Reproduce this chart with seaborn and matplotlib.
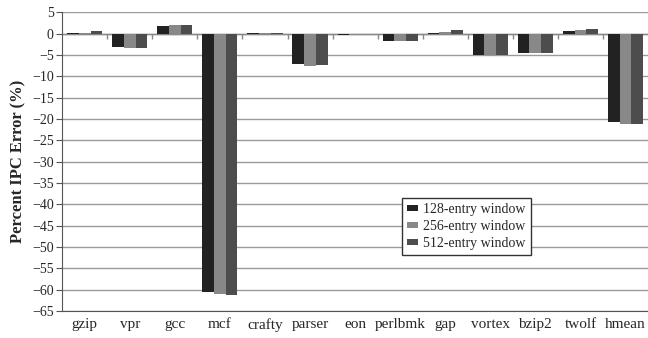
import numpy as np
import pandas as pd
import matplotlib.pyplot as plt
import seaborn as sns

benchmarks = ["gzip", "vpr", "gcc", "mcf", "crafty", "parser", "eon",
              "perlbmk", "gap", "vortex", "bzip2", "twolf", "hmean"]
win128 = [0.05, -3.2, 1.7, -60.5, 0.05, -7.2, -0.3, -1.8, 0.1, -5.0, -4.5, 0.5, -20.8]
win256 = [0.2, -3.3, 2.0, -61.0, 0.05, -7.5, -0.2, -1.7, 0.3, -5.0, -4.6, 0.8, -21.2]
win512 = [0.7, -3.3, 2.0, -61.2, 0.05, -7.3, -0.1, -1.8, 0.8, -5.0, -4.5, 1.0, -21.3]
windows = ["128-entry window", "256-entry window", "512-entry window"]
colors = ["#222222", "#888888", "#4d4d4d"]

df = pd.DataFrame({
    "bench": benchmarks * 3,
    "err": win128 + win256 + win512,
    "window": np.repeat(windows, len(benchmarks)),
})

sns.set_style("white")
plt.rcParams["font.family"] = ["Liberation Serif", "DejaVu Serif"]

fig, ax = plt.subplots(figsize=(6.48, 3.38), dpi=100)
fig.subplots_adjust(left=0.096, right=1.0, top=0.964, bottom=0.08)

sns.barplot(data=df, x="bench", y="err", hue="window", palette=colors,
            saturation=1, width=0.78, ax=ax, zorder=3, linewidth=0)

ax.set_ylim(-65, 5)
ax.set_yticks(np.arange(-65, 6, 5))
ax.set_xlim(-0.5, len(benchmarks) - 0.5)
ax.yaxis.grid(True, color="#9a9a9a", linewidth=1.0, zorder=0)
ax.axhline(0, color="#888888", linewidth=1.0, zorder=2)
# category tick marks on the zero line
ax.vlines(np.arange(len(benchmarks) - 1) + 0.5, -1.2, 0, color="#888888",
          linewidth=1.0, zorder=2)

for s in ["top", "right"]:
    ax.spines[s].set_visible(False)
ax.spines["left"].set_color("#555555")
ax.spines["bottom"].set_color("#555555")
ax.tick_params(axis="y", length=4, color="#555555", labelsize=10, pad=2, left=True)
ax.tick_params(axis="x", length=0, labelsize=11, pad=5)

ax.set_xlabel("")
ax.set_ylabel("Percent IPC Error (%)", fontsize=12, fontweight="bold")

ax.legend(loc="upper left", bbox_to_anchor=(0.58, 0.378), fontsize=10,
          frameon=True, fancybox=False, edgecolor="#333333", framealpha=1,
          handlelength=0.8, handleheight=0.3, handletextpad=0.4,
          borderpad=0.35, labelspacing=0.3, borderaxespad=0)

fig.savefig("out.png", dpi=100)
